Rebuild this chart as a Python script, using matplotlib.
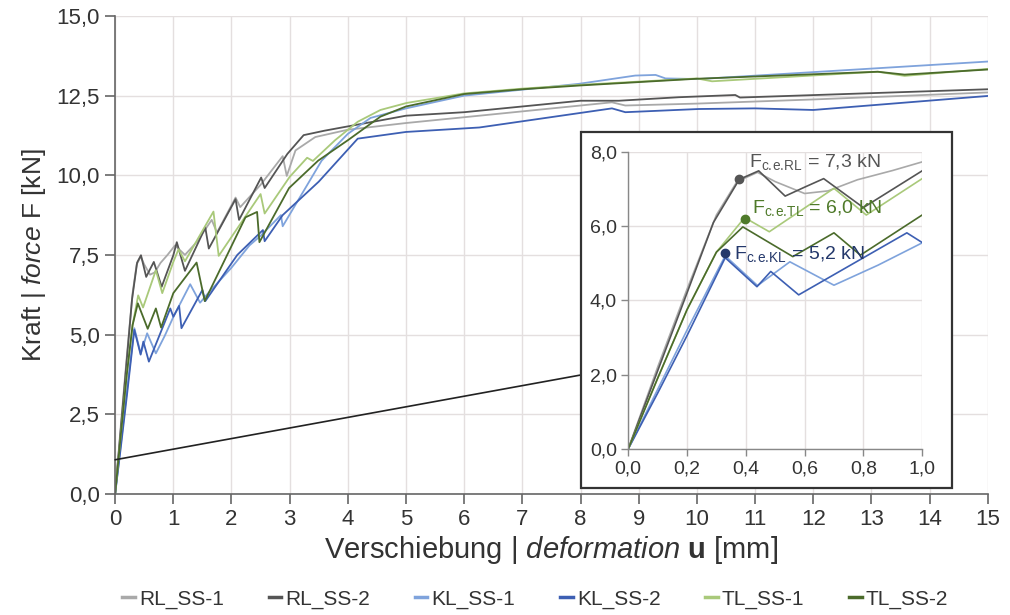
import matplotlib
matplotlib.use("Agg")
import matplotlib.pyplot as plt
from matplotlib.patches import Rectangle, ConnectionPatch
from matplotlib.ticker import FuncFormatter, MultipleLocator
from matplotlib.lines import Line2D

FONT = "Liberation Sans"
plt.rcParams["font.family"] = [FONT, "DejaVu Sans"]
plt.rcParams["mathtext.fontset"] = "custom"
plt.rcParams["mathtext.rm"] = FONT
plt.rcParams["mathtext.it"] = FONT + ":italic"
plt.rcParams["mathtext.bf"] = FONT + ":bold"

# --- data: deformation u [mm], force F [kN] ---
rl1_u = [0, 0.1, 0.2, 0.3, 0.37, 0.44, 0.5, 0.6, 0.68, 0.78, 0.9, 1.03, 1.2, 1.4, 1.66, 1.75,
         2.07, 2.15, 2.5, 2.88, 2.95, 3.1, 3.44, 4.0, 5.0, 6.26, 8.0, 8.54, 8.77, 10.0, 12.0, 15.0]
rl1_f = [0, 2.2, 4.3, 6.3, 7.2, 7.45, 7.2, 6.88, 6.95, 7.25, 7.5, 7.8, 7.5, 7.9, 8.6, 8.2,
         9.3, 9.0, 9.7, 10.6, 9.98, 10.78, 11.2, 11.43, 11.64, 11.87, 12.19, 12.29, 12.19, 12.25, 12.38, 12.6]

rl2_u = [0, 0.1, 0.2, 0.29, 0.378, 0.444, 0.534, 0.6, 0.665, 0.8, 1.0, 1.06, 1.2, 1.55, 1.61,
         2.07, 2.13, 2.51, 2.57, 2.96, 3.24, 3.6, 5.0, 6.0, 8.0, 8.66, 9.69, 10.66, 10.74, 15.0]
rl2_f = [0, 2.1, 4.2, 6.1, 7.26, 7.49, 6.81, 7.05, 7.28, 6.5, 7.49, 7.9, 7.0, 8.36, 7.7,
         9.25, 8.6, 9.93, 9.6, 10.67, 11.26, 11.4, 11.87, 11.98, 12.34, 12.34, 12.45, 12.52, 12.44, 12.7]

kl1_u = [0, 0.1, 0.2, 0.31, 0.33, 0.44, 0.55, 0.7, 0.85, 1.0, 1.29, 1.46, 1.6, 2.0, 2.31, 2.5,
         2.85, 2.88, 3.55, 4.0, 4.39, 5.0, 6.0, 7.97, 8.94, 9.29, 9.46, 10.03, 15.0]
kl1_f = [0, 1.6, 3.2, 4.9, 5.2, 4.4, 5.04, 4.41, 4.95, 5.55, 6.58, 6.0, 6.3, 7.1, 7.8, 8.1,
         8.75, 8.4, 10.46, 11.3, 11.8, 12.1, 12.5, 12.87, 13.13, 13.15, 13.04, 13.02, 13.57]

kl2_u = [0, 0.1, 0.2, 0.33, 0.438, 0.485, 0.58, 0.948, 1.0, 1.1, 1.14, 1.5, 1.55, 2.1, 2.54,
         2.57, 2.88, 3.5, 4.17, 5.0, 6.26, 8.54, 8.77, 10.03, 11.0, 12.0, 15.0]
kl2_f = [0, 1.5, 3.05, 5.15, 4.37, 4.78, 4.15, 5.82, 5.56, 5.9, 5.2, 6.4, 6.05, 7.5, 8.28,
         7.93, 8.75, 9.8, 11.15, 11.36, 11.5, 12.1, 11.98, 12.08, 12.1, 12.05, 12.49]

tl1_u = [0, 0.1, 0.2, 0.3, 0.396, 0.48, 0.7, 0.81, 1.0, 1.09, 1.2, 1.69, 1.78, 2.5, 2.57, 3.0,
         3.3, 3.4, 3.78, 4.17, 4.56, 5.01, 6.0, 7.0, 8.0, 10.0, 10.26, 13.11, 13.57, 15.0]
tl1_f = [0, 1.9, 3.75, 5.3, 6.23, 5.85, 7.02, 6.3, 7.28, 7.68, 7.3, 8.86, 7.47, 9.41, 8.8, 9.95,
         10.55, 10.45, 11.1, 11.68, 12.05, 12.27, 12.57, 12.72, 12.84, 13.04, 12.95, 13.25, 13.12, 13.34]

tl2_u = [0, 0.1, 0.2, 0.3, 0.39, 0.56, 0.7, 0.79, 1.0, 1.4, 1.54, 2.24, 2.44, 2.48, 2.99, 3.49,
         4.0, 4.56, 5.0, 6.0, 7.0, 8.0, 10.0, 13.11, 13.57, 15.0]
tl2_f = [0, 1.9, 3.75, 5.3, 5.98, 5.18, 5.82, 5.22, 6.3, 7.26, 6.05, 8.68, 8.85, 7.9, 9.6, 10.46,
         11.1, 11.84, 12.16, 12.55, 12.7, 12.82, 13.03, 13.25, 13.16, 13.32]

names = ["RL_SS-1", "RL_SS-2", "KL_SS-1", "KL_SS-2", "TL_SS-1", "TL_SS-2"]
colors = ["#a9a9a9", "#555555", "#7fa3dc", "#3d5fb3", "#a9c97a", "#4b6b2b"]
series = [(rl1_u, rl1_f), (rl2_u, rl2_f), (kl1_u, kl1_f),
          (kl2_u, kl2_f), (tl1_u, tl1_f), (tl2_u, tl2_f)]

# characteristic points F_c.e
ce_u = [0.378, 0.396, 0.33]
ce_f = [7.26, 6.2, 5.27]
ce_text = [r"F$_{\mathrm{c.\!e.\!RL}}$ = 7,3 kN", r"F$_{\mathrm{c.\!e.\!TL}}$ = 6,0 kN",
           r"F$_{\mathrm{c.\!e.\!KL}}$ = 5,2 kN"]
ce_text_xy = [(0.41, 7.72), (0.42, 6.5), (0.36, 5.26)]
ce_colors = ["#555555", "#4f7a2a", "#24386b"]

comma = FuncFormatter(lambda v, p: f"{v:.1f}".replace(".", ","))
grid_c = "#e4dfdf"
txt_c = "#333333"

fig = plt.figure(figsize=(10.1, 6.15), dpi=100)
ax = fig.add_axes([0.114, 0.197, 0.864, 0.777])
for (u, f), c in zip(series, colors):
    ax.plot(u, f, color=c, lw=1.3)
ax.set_xlim(0, 15)
ax.set_ylim(0, 15)
ax.xaxis.set_major_locator(MultipleLocator(1))
ax.yaxis.set_major_locator(MultipleLocator(2.5))
ax.yaxis.set_major_formatter(comma)
ax.grid(True, color=grid_c, lw=1)
ax.set_axisbelow(True)
for s in ["top", "right"]:
    ax.spines[s].set_visible(False)
for s in ["left", "bottom"]:
    ax.spines[s].set_color("#666666")
    ax.spines[s].set_linewidth(1.2)
ax.tick_params(direction="out", length=7, width=1.2, color="#666666",
               labelsize=16, labelcolor=txt_c, pad=4)
ax.set_ylabel(r"Kraft | $\mathit{force}$ F [kN]", fontsize=19, color=txt_c, labelpad=6)
ax.set_xlabel(r"Verschiebung | $\mathit{deformation}$ $\mathbf{u}$ [mm]", fontsize=21,
              color=txt_c, labelpad=3)

# inset frame and connector
frame = Rectangle((0.575, 0.2065), 0.368, 0.5785, transform=fig.transFigure,
                  facecolor="white", edgecolor="#333333", lw=1.6, zorder=2)
fig.add_artist(frame)
con = ConnectionPatch(xyA=(0, 1.07), coordsA=ax.transData,
                      xyB=(0.575, 1 - 375 / 615), coordsB=fig.transFigure,
                      color="#222222", lw=1.2, zorder=1)
fig.add_artist(con)

axi = fig.add_axes([0.622, 0.270, 0.291, 0.483], zorder=3)
for (u, f), c in zip(series, colors):
    axi.plot(u, f, color=c, lw=1.2)
axi.set_xlim(0, 1)
axi.set_ylim(0, 8)
axi.xaxis.set_major_locator(MultipleLocator(0.2))
axi.yaxis.set_major_locator(MultipleLocator(2))
axi.xaxis.set_major_formatter(comma)
axi.yaxis.set_major_formatter(comma)
axi.grid(True, color=grid_c, lw=1)
axi.set_axisbelow(True)
for s in ["top", "right"]:
    axi.spines[s].set_visible(False)
for s in ["left", "bottom"]:
    axi.spines[s].set_color("#888888")
    axi.spines[s].set_linewidth(1.0)
axi.tick_params(direction="out", length=5, width=1.0, color="#888888",
                labelsize=14, labelcolor=txt_c, pad=3)
for u, f, t, (tx, ty), c in zip(ce_u, ce_f, ce_text, ce_text_xy, ce_colors):
    axi.plot(u, f, "o", color=c, ms=6, zorder=5)
    axi.text(tx, ty, t, color=c, fontsize=14, va="center", ha="left", zorder=6)

handles = [Line2D([], [], color=c, lw=2.5) for c in colors]
fig.legend(handles, names, loc="lower center", bbox_to_anchor=(0.53, -0.02), ncol=6,
           frameon=False, handlelength=0.6, handletextpad=0.2, columnspacing=2.15,
           fontsize=15, labelcolor=txt_c)

fig.savefig("out.png", dpi=100)
